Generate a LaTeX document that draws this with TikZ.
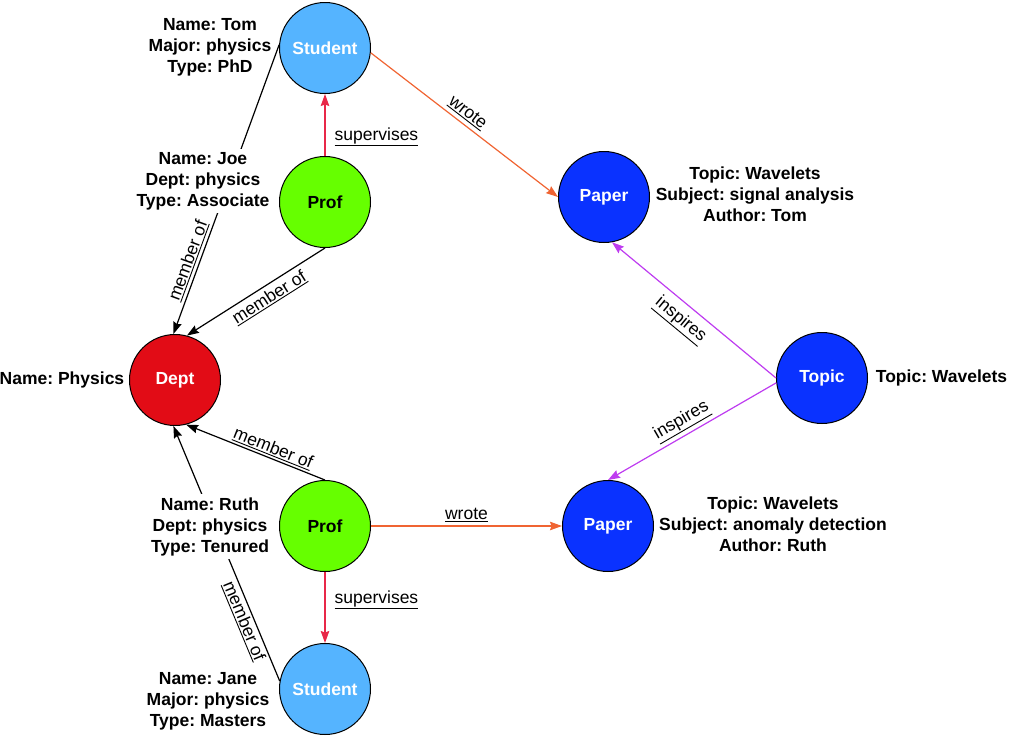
\documentclass[tikz,border=0pt]{standalone}
\usepackage{fontspec}
\setmainfont{Liberation Sans}
\usetikzlibrary{arrows.meta}
\definecolor{studentc}{RGB}{85,180,255}
\definecolor{profc}{RGB}{102,255,0}
\definecolor{deptc}{RGB}{226,12,22}
\definecolor{paperc}{RGB}{10,50,255}
\definecolor{wrotec}{RGB}{240,100,50}
\definecolor{supc}{RGB}{232,40,72}
\definecolor{inspc}{RGB}{190,60,240}
\newcommand\ulabel[1]{\setbox0\hbox{#1}\dimen0=\dp0 \advance\dimen0 by 2.2pt\rlap{\rule[-\dimen0]{\wd0}{0.9pt}}\box0}
\frenchspacing
\begin{document}
\frenchspacing
\begin{tikzpicture}[x=1pt,y=-1pt,
  ent/.style={circle,draw=black,line width=1pt,minimum size=91pt,inner sep=0pt,font=\fontsize{17.5}{21}\selectfont\bfseries},
  attr/.style={align=center,font=\fontsize{17.5}{21}\selectfont\bfseries\frenchspacing,inner sep=3.5pt},
  rel/.style={line width=1.2pt,-{Stealth[length=12pt,width=8.5pt,inset=1.5pt]}},
  lab/.style={font=\fontsize{17.5}{21}\selectfont,inner sep=1pt,text=black},
]
\useasboundingbox (0,0) rectangle (1009,739);
% entities
\node[ent,fill=studentc,text=white] (s1) at (325,48) {Student};
\node[ent,fill=profc] (p1) at (325,202) {Prof};
\node[ent,fill=deptc,text=white] (dept) at (175,380) {Dept};
\node[ent,fill=profc] (p2) at (325,526) {Prof};
\node[ent,fill=studentc,text=white] (s2) at (325,689) {Student};
\node[ent,fill=paperc,text=white] (pa1) at (604,197) {Paper};
\node[ent,fill=paperc,text=white] (topic) at (822,378) {Topic};
\node[ent,fill=paperc,text=white] (pa2) at (608,526) {Paper};
% relations
\draw[rel,wrotec] (s1.-6) -- node[lab,sloped,above=3pt,pos=0.48]{\ulabel{wrote}} (pa1.west);
\draw[rel,supc] (p1.north) -- node[lab,right=8pt,pos=0.31]{\ulabel{supervises}} (s1.south);
\draw[rel,black] (p1.south) -- node[lab,sloped,below=3pt,pos=0.45]{\ulabel{member of}} (dept.75);
\draw[rel,black] (s1.176) -- node[lab,sloped,above=2pt,pos=0.76]{\ulabel{member of}} (dept.92);
\draw[rel,black] (p2.north) -- node[lab,sloped,above=1pt,pos=0.4]{\ulabel{member of}} (dept.284);
\draw[rel,black] (s2.170) -- node[lab,sloped,below=1pt,pos=0.25]{\ulabel{member of}} (dept.268);
\draw[rel,supc] (p2.south) -- node[lab,right=8pt,pos=0.39]{\ulabel{supervises}} (s2.north);
\draw[rel,wrotec] (p2.east) -- node[lab,above=3pt]{\ulabel{wrote}} (pa2.west);
\draw[rel,inspc] (topic.west) -- node[lab,sloped,below=6pt,pos=0.52]{\ulabel{inspires}} (pa1.280);
\draw[rel,inspc] (topic.186) -- node[lab,sloped,above=3pt,pos=0.52]{\ulabel{inspires}} (pa2.north);
% attributes
\node[attr] (tom) at (210,47.5) {Name: Tom\\Major: physics\\Type: PhD};
\node[attr,fill=white] (joe) at (203,181) {Name: Joe\\Dept: physics\\Type: Associate};
\node[attr] (phys) at (62,380) {Name: Physics};
\node[attr,fill=white] (ruth) at (210,526.5) {Name: Ruth\\Dept: physics\\Type: Tenured};
\node[attr] (jane) at (208,701.5) {Name: Jane\\Major: physics\\Type: Masters};
\node[attr] (pa1lab) at (755,194.5) {Topic: Wavelets\\Subject: signal analysis\\Author: Tom};
\node[attr] (topiclab) at (941.5,378) {Topic: Wavelets};
\node[attr] (pa2lab) at (773,524) {Topic: Wavelets\\Subject: anomaly detection\\Author: Ruth};
\end{tikzpicture}
\end{document}
